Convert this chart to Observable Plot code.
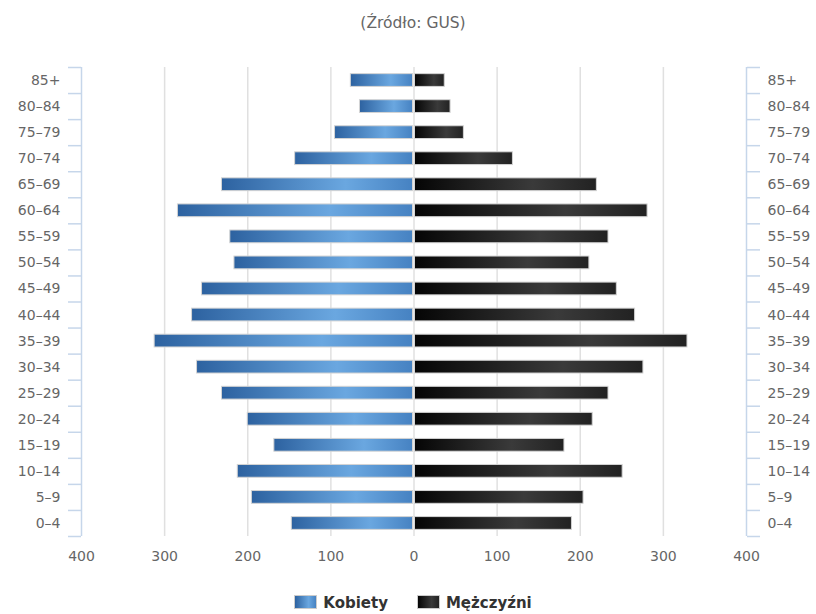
<!DOCTYPE html>
<html><head><meta charset="utf-8">
<script src="https://cdn.jsdelivr.net/npm/d3@7"></script>
<script src="https://cdn.jsdelivr.net/npm/@observablehq/plot@0.6"></script>
<style>
body{margin:0;background:#fff;font-family:"DejaVu Sans",sans-serif;}
#title{height:44px;line-height:46px;text-align:center;font-size:15.5px;color:#666;padding-left:10px;box-sizing:border-box;}
#chart svg{display:block;}
#legend{padding-top:19px;padding-left:10px;line-height:20px;text-align:center;font-size:15px;font-weight:bold;color:#333;white-space:nowrap;}
.sw{display:inline-block;width:23px;height:14px;vertical-align:-1px;margin-right:6px;border:1px solid #ccc;box-sizing:border-box;}
.item{display:inline-block;}
</style></head><body>
<div id="title">(Źródło: GUS)</div>
<div id="chart"></div>
<div id="legend"><span class="item"><span class="sw" style="background:linear-gradient(to right,#2d62a0,#6aa7e0 65%,#4682c2)"></span>Kobiety</span><span class="item" style="margin-left:29px"><span class="sw" style="background:linear-gradient(to right,#050505,#3a3a3a 65%,#222)"></span>Mężczyźni</span></div>
<script>
const ages = ["85+","80–84","75–79","70–74","65–69","60–64","55–59","50–54","45–49","40–44","35–39","30–34","25–29","20–24","15–19","10–14","5–9","0–4"];
const kobiety = [76,65,95,143,231,284,221,216,255,267,312,261,231,200,168,212,195,147];
const mezczyzni = [37,44,60,119,220,281,234,211,244,266,329,276,234,215,181,251,204,190];
const xTicks = [-400,-300,-200,-100,0,100,200,300,400];
const gridValues = [-300,-200,-100,0,100,200,300];
const edgeValues = [-400,400];

const rows = ages.map((a, i) => ({age: a, i, k: kobiety[i], m: mezczyzni[i]}));
const centers = d3.range(ages.length);
const boundaries = d3.range(ages.length + 1).map(i => i - 0.5);
const half = 0.245;
const axisColor = "#c6d6ea";

const chart = Plot.plot({
  width: 816,
  height: 530,
  marginTop: 23,
  marginBottom: 38,
  marginLeft: 81,
  marginRight: 70,
  style: {fontFamily: "DejaVu Sans, sans-serif", fontSize: "14px", color: "#666", background: "#fff"},
  x: {domain: [-400, 400], axis: null},
  y: {type: "linear", domain: [-0.5, ages.length - 0.5], reverse: true, axis: null},
  marks: [
    Plot.ruleX(gridValues, {stroke: "#e0e0e0", strokeWidth: 1.5}),
    Plot.ruleX(edgeValues, {stroke: axisColor, strokeWidth: 1.5}),
    Plot.rect(rows, {x1: 0, x2: d => -d.k, y1: d => d.i - half, y2: d => d.i + half, fill: "url(#gk)", stroke: "#d4d4d4", strokeWidth: 1, insetRight: 1}),
    Plot.rect(rows, {x1: 0, x2: d => d.m, y1: d => d.i - half, y2: d => d.i + half, fill: "url(#gm)", stroke: "#d4d4d4", strokeWidth: 1, insetLeft: 1}),
    Plot.axisY({anchor: "left", ticks: boundaries, tickSize: 13, tickFormat: () => "", stroke: axisColor, strokeWidth: 1.5, label: null}),
    Plot.axisY({anchor: "right", ticks: boundaries, tickSize: 13, tickFormat: () => "", stroke: axisColor, strokeWidth: 1.5, label: null}),
    Plot.axisY({anchor: "left", ticks: centers, tickSize: 0, tickPadding: 21, tickFormat: i => ages[i], fill: "#666", label: null}),
    Plot.axisY({anchor: "right", ticks: centers, tickSize: 0, tickPadding: 21, tickFormat: i => ages[i], fill: "#666", label: null}),
    Plot.axisX({anchor: "bottom", ticks: xTicks, tickSize: 0, tickPadding: 15, tickFormat: d => Math.abs(d), fill: "#666", label: null})
  ]
});

chart.insertAdjacentHTML("afterbegin", `<defs>
<linearGradient id="gk" x1="0" x2="1" y1="0" y2="0">
<stop offset="0%" stop-color="#2d62a0"/><stop offset="65%" stop-color="#6aa7e0"/><stop offset="100%" stop-color="#4682c2"/>
</linearGradient>
<linearGradient id="gm" x1="0" x2="1" y1="0" y2="0">
<stop offset="0%" stop-color="#050505"/><stop offset="65%" stop-color="#3a3a3a"/><stop offset="100%" stop-color="#222"/>
</linearGradient>
</defs>`);
document.getElementById("chart").appendChild(chart);
</script>
</body></html>
